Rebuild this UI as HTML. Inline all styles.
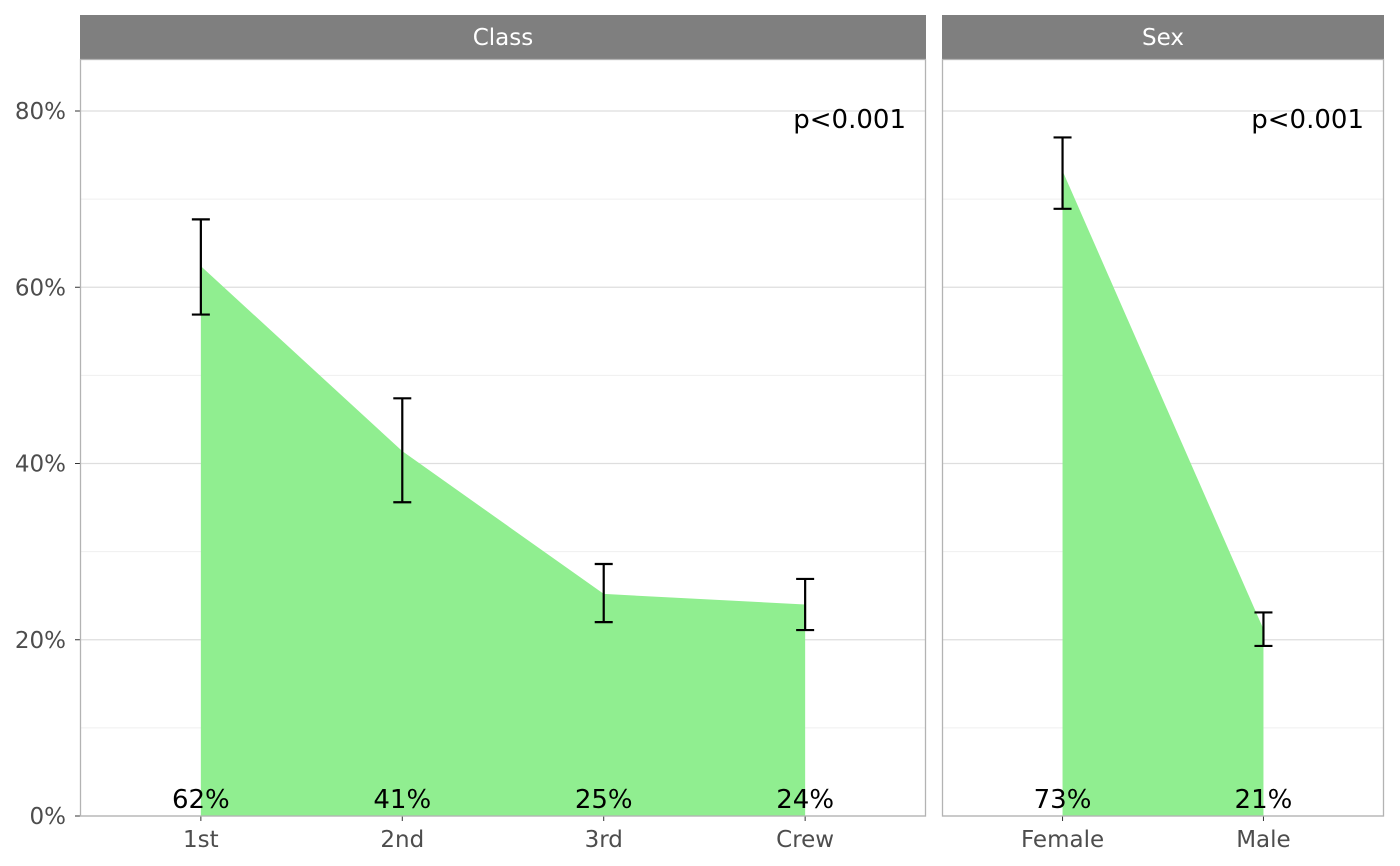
<!DOCTYPE html>
<html><head><meta charset="utf-8"><style>
body{margin:0;background:#fff;}
svg{display:block;font-family:"DejaVu Sans","Liberation Sans",sans-serif;}
</style></head><body>
<svg id="chart" width="1400" height="866"></svg>
<script>
const classCats = ["1st","2nd","3rd","Crew"];
const classVals = [62.4,41.4,25.2,24.0];
const classLo = [56.9,35.6,22.0,21.1];
const classHi = [67.7,47.4,28.6,26.9];
const sexCats = ["Female","Male"];
const sexVals = [73.2,21.2];
const sexLo = [68.9,19.3];
const sexHi = [77.0,23.1];
const yTicks = [0,20,40,60,80];
const yMinor = [10,30,50,70];
const panelTitles = ["Class","Sex"];
const pLabels = ["p<0.001","p<0.001"];

const NS="http://www.w3.org/2000/svg";
const svg=document.getElementById('chart');
function mk(tag,attrs,parent,text){const e=document.createElementNS(NS,tag);for(const k in attrs)e.setAttribute(k,attrs[k]);if(text!==undefined)e.textContent=text;(parent||svg).appendChild(e);return e;}
const plotTop=60,plotBot=816;
function y(v){return plotBot-(v/80)*(816-111);}

const panels=[
 {x0:80,x1:926,cats:classCats,vals:classVals,lo:classLo,hi:classHi,title:panelTitles[0],p:pLabels[0],name:'class'},
 {x0:942,x1:1384,cats:sexCats,vals:sexVals,lo:sexLo,hi:sexHi,title:panelTitles[1],p:pLabels[1],name:'sex'}
];
yTicks.forEach(t=>{
 const e=mk('text',{x:66,y:y(t)+8,'text-anchor':'end','font-size':23,fill:'#4d4d4d'},svg,t+'%');
 
 
 mk('line',{x1:75,x2:80,y1:y(t),y2:y(t),stroke:'#333','stroke-width':1});
});
panels.forEach(P=>{
 const n=P.cats.length, w=(P.x1-P.x0)/(n-1+1.2);
 const x=i=>P.x0+(i+0.6)*w;
 const g=mk('g',{});
 
 
 const s=mk('rect',{x:P.x0,y:15,width:P.x1-P.x0,height:44,fill:'#7f7f7f'},g);
 
 
 mk('text',{x:(P.x0+P.x1)/2,y:45,'text-anchor':'middle','font-size':23,fill:'#fff'},g,P.title);
 yMinor.forEach(t=>mk('line',{x1:P.x0,x2:P.x1,y1:y(t),y2:y(t),stroke:'#efefef','stroke-width':1},g));
 yTicks.forEach(t=>mk('line',{x1:P.x0,x2:P.x1,y1:y(t),y2:y(t),stroke:'#dedede','stroke-width':1.3},g));
 let d='M'+x(0)+','+y(0);
 P.vals.forEach((v,i)=>d+=' L'+x(i)+','+y(v));
 d+=' L'+x(n-1)+','+y(0)+' Z';
 const a=mk('path',{d:d,fill:'#90ee90'},g);
 
 
 P.vals.forEach((v,i)=>{
  const xi=x(i);
  const eb=mk('path',{d:`M${xi-9},${y(P.hi[i])} H${xi+9} M${xi},${y(P.hi[i])} V${y(P.lo[i])} M${xi-9},${y(P.lo[i])} H${xi+9}`,stroke:'#000','stroke-width':2.2,fill:'none'},g);
  
  
  const lb=mk('text',{x:xi,y:808,'text-anchor':'middle','font-size':26,fill:'#000'},g,Math.round(v)+'%');
  
  
  mk('line',{x1:xi,x2:xi,y1:816,y2:821,stroke:'#333'},g);
  const xl=mk('text',{x:xi,y:847,'text-anchor':'middle','font-size':23,fill:'#4d4d4d'},g,P.cats[i]);
  
  
 });
 mk('rect',{x:P.x0+0.5,y:59.5,width:P.x1-P.x0-1,height:plotBot-59.5,fill:'none',stroke:'#b3b3b3','stroke-width':1.3},g);
 const pl=mk('text',{x:P.x1-20,y:128,'text-anchor':'end','font-size':26,fill:'#000'},g,P.p);
 
 
});
</script>
</body></html>
